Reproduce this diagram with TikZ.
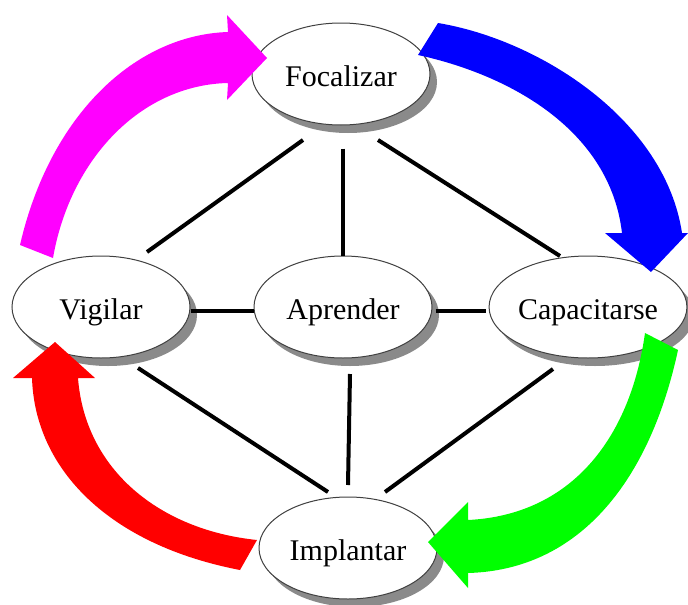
\documentclass[tikz,border=0pt]{standalone}
\usepackage{fontspec}
\setmainfont{Liberation Serif}
\usetikzlibrary{shadows,calc,shapes.geometric}
\definecolor{shadowgray}{HTML}{8A8A8A}
\definecolor{rimgray}{HTML}{404040}
\begin{document}
\begin{tikzpicture}[x=1pt,y=-1pt,
  oval/.style={ellipse,draw=rimgray,line width=1pt,fill=white,
    minimum width=178pt,minimum height=102pt,inner sep=0pt,
    text height=24pt,text depth=0pt,
    font=\fontsize{30}{36}\selectfont,
    drop shadow={shadow xshift=7pt,shadow yshift=-8pt,fill=shadowgray,opacity=1}},
  link/.style={line width=4pt,black},
  bigarrow/.style={draw=none}]
\useasboundingbox (0,0) rectangle (688,605);
\fill[white] (0,0) rectangle (688,605);
\node[oval] (F) at (341,74) {Focalizar};
\node[oval] (V) at (101,307) {Vigilar};
\node[oval] (A) at (343,307) {Aprender};
\node[oval] (C) at (588,307) {Capacitarse};
\node[oval] (I) at (348,548) {Implantar};
% connectors
\draw[link] ($(V.east)+(0,4)$) -- ($(A.west)+(0,4)$);
\draw[link] ($(A.east)+(3,4)$) -- ($(C.west)+(-3,4)$);
\draw[link] ($(F.south)+(2,23)$) -- (A.north);
\draw[link] ($(F)+(-38,66)$) -- ($(V)+(46,-55)$);
\draw[link] ($(F)+(37,66)$) -- ($(C)+(-28,-51)$);
\draw[link] ($(V)+(37,61)$) -- ($(I)+(-20,-56)$);
\draw[link] ($(A)+(7,67)$) -- ($(I)+(0,-63)$);
\draw[link] ($(C)+(-35,62)$) -- ($(I)+(37,-56)$);
% curved arrows
\fill[bigarrow,fill={rgb,255:red,255;green,0;blue,255}]
  (20,245) .. controls (50,115) and (135,35) .. (228,32) -- (227,15) -- (267,58)
  -- (227,100) -- (228,83) .. controls (140,85) and (70,160) .. (53,258) -- cycle;
\fill[bigarrow,fill={rgb,255:red,0;green,0;blue,255}]
  (438,23) .. controls (540,40) and (665,120) .. (682,233) -- (688,233) -- (651,272)
  -- (605,233) -- (622,233) .. controls (610,130) and (510,75) .. (418,55) -- cycle;
\fill[bigarrow,fill={rgb,255:red,0;green,255;blue,0}]
  (678,350) .. controls (650,480) and (580,570) .. (468,573) -- (468,588) -- (428,542)
  -- (468,502) -- (468,520) .. controls (570,515) and (630,440) .. (645,333) -- cycle;
\fill[bigarrow,fill={rgb,255:red,255;green,0;blue,0}]
  (240,570) .. controls (110,545) and (35,470) .. (32,378) -- (13,378) -- (55,342)
  -- (95,378) -- (78,378) .. controls (85,470) and (160,530) .. (257,540) -- cycle;
\end{tikzpicture}
\end{document}
